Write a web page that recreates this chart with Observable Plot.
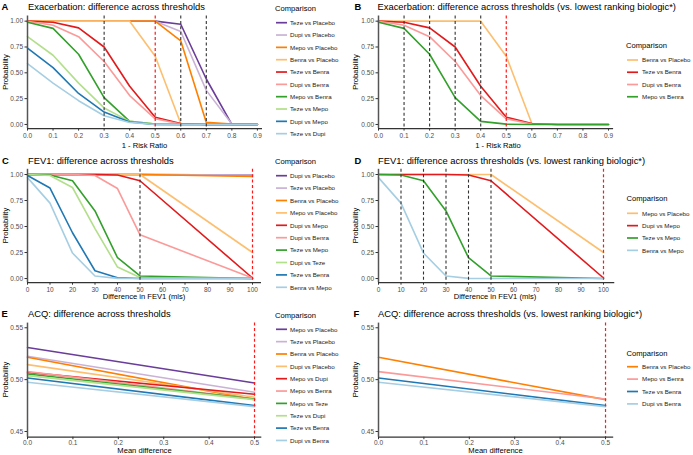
<!DOCTYPE html>
<html><head><meta charset="utf-8">
<script src="https://cdn.jsdelivr.net/npm/d3@7"></script>
<script src="https://cdn.jsdelivr.net/npm/@observablehq/plot@0.6"></script>
<style>
body{margin:0;background:#fff;}
#root{position:relative;width:693px;height:455px;overflow:hidden;background:#fff;font-family:"Liberation Sans",Arial,sans-serif;}
#root svg.plot{position:absolute;}
</style></head><body><div id="root"></div>
<script>
// ---------- DATA ----------
const pairedPalette = ["#6A3D9A","#CAB2D6","#FF7F00","#FDBF6F","#E31A1C","#FB9A99","#33A02C","#B2DF8A","#1F78B4","#A6CEE3"];

// Exacerbation (panels A, B)
const exacThresholds = [0,0.1,0.2,0.3,0.4,0.5,0.6,0.7,0.8,0.9];
const exacComparisons = ["Teze vs Placebo","Dupi vs Placebo","Mepo vs Placebo","Benra vs Placebo","Teze vs Benra","Dupi vs Benra","Mepo vs Benra","Teze vs Mepo","Dupi vs Mepo","Teze vs Dupi"];
const exacProbabilities = [
  [1,1,1,1,1,1,0.97,0.44,0,0],
  [1,1,1,1,1,1,0.90,0.33,0.005,0],
  [1,1,1,1,1,1,0.81,0.02,0.005,0],
  [1,1,1,1,1,0.66,0.01,0,0,0],
  [1,0.99,0.935,0.75,0.37,0.07,0.01,0,0,0],
  [1,0.96,0.85,0.61,0.28,0.055,0.005,0,0,0],
  [0.99,0.93,0.68,0.26,0.03,0.003,0,0,0,0],
  [0.85,0.67,0.40,0.16,0.03,0.003,0,0,0,0],
  [0.74,0.55,0.30,0.12,0.025,0,0,0,0,0],
  [0.59,0.40,0.23,0.085,0.02,0,0,0,0,0]
];
const exacLowestComparisons = ["Benra vs Placebo","Teze vs Benra","Dupi vs Benra","Mepo vs Benra"];
const exacCutoffsA = [0.3,0.6,0.7];
const exacCutoffsB = [0.1,0.2,0.3,0.4];
const exacMcid = [0.5];
const exacTickLabels = ["0.0","0.1","0.2","0.3","0.4","0.5","0.6","0.7","0.8","0.9"];

// FEV1 (panels C, D)
const fevThresholds = [0,10,20,30,40,50,100];
const fevComparisons = ["Dupi vs Placebo","Teze vs Placebo","Benra vs Placebo","Mepo vs Placebo","Dupi vs Mepo","Dupi vs Benra","Teze vs Mepo","Dupi vs Teze","Teze vs Benra","Benra vs Mepo"];
const fevProbabilities = [
  [1,1,1,1,1,1,0.995],
  [1,1,1,1,1,1,0.995],
  [1,1,1,1,1,1,0.982],
  [1,1,1,1,1,1,0.25],
  [1,1,1,1,0.995,0.94,0.005],
  [1,1,1,0.99,0.865,0.42,0.005],
  [1,0.995,0.94,0.65,0.20,0.025,0],
  [1,0.99,0.875,0.48,0.11,0.01,0],
  [0.99,0.87,0.44,0.075,0.008,0,0],
  [0.97,0.725,0.245,0.025,0.002,0,0]
];
const fevLowestComparisons = ["Mepo vs Placebo","Dupi vs Mepo","Teze vs Mepo","Benra vs Mepo"];
const fevCutoffsC = [50];
const fevCutoffsD = [10,20,30,40,50];
const fevMcid = [100];
const fevTickLabels = ["0","10","20","30","40","50","60","70","80","90","100"];

// ACQ (panels E, F)
const acqThresholds = [0,0.5];
const acqComparisons = ["Mepo vs Placebo","Teze vs Placebo","Benra vs Placebo","Dupi vs Placebo","Mepo vs Dupi","Mepo vs Benra","Mepo vs Teze","Teze vs Dupi","Teze vs Benra","Dupi vs Benra"];
const acqProbabilities = [
  [0.531,0.4968],
  [0.5225,0.4878],
  [0.5215,0.4807],
  [0.5145,0.4830],
  [0.5070,0.4859],
  [0.5077,0.4813],
  [0.5055,0.4813],
  [0.5039,0.4807],
  [0.5016,0.4749],
  [0.4974,0.4740]
];
const acqLowestComparisons = ["Benra vs Placebo","Mepo vs Benra","Teze vs Benra","Dupi vs Benra"];
const acqMcid = [0.5];
const acqTickLabels = ["0.0","0.1","0.2","0.3","0.4","0.5"];

const probTicks = [0,0.25,0.5,0.75,1];
const acqProbTicks = [0.45,0.5,0.55];

// ---------- DRAWING ----------
const FONT = '"Liberation Sans",Arial,sans-serif';
const root = document.getElementById("root");

function buildRows(thresholds, names, probs, subset) {
  const rows = [];
  const list = subset || names;
  list.forEach(n => {
    const i = names.indexOf(n);
    thresholds.forEach((t, j) => rows.push({x: t, y: probs[i][j], name: n}));
  });
  return rows;
}

function panel(o) {
  const list = o.subset || o.names;
  const colors = list.map(n => pairedPalette[o.names.indexOf(n)]);
  const rows = buildRows(o.thresholds, o.names, o.probs, o.subset);
  const svg = Plot.plot({
    width: o.width, height: o.height,
    marginLeft: o.mL, marginRight: o.mR, marginTop: o.mT, marginBottom: o.mB,
    style: {fontFamily: FONT, fontSize: "6.5px", background: "transparent", overflow: "visible"},
    x: {domain: o.xDomain, label: null},
    y: {domain: o.yDomain, label: null},
    color: {domain: list, range: colors},
    marks: [
      Plot.line(rows, {x: "x", y: "y", z: "name", stroke: "name", strokeWidth: 1.6}),
      Plot.ruleX(o.black || [], {stroke: "#333", strokeWidth: 1.1, strokeDasharray: "3,2.4"}),
      Plot.ruleX(o.red, {stroke: "#ff1a1a", strokeWidth: 1.2, strokeDasharray: "3,2.4"}),
      Plot.ruleX([o.xDomain[0]], {stroke: "#555", strokeWidth: 1.5}),
      Plot.ruleY([o.yDomain[0]], {stroke: "#333", strokeWidth: 1.2}),
      Plot.axisX({ticks: o.xTicks, tickFormat: (d, i) => o.xLabels[i], tickSize: 2.5, tickPadding: o.tickPadX ?? 2, fill: "#4d4d4d", stroke: "#333", label: null}),
      Plot.axisY({ticks: o.yTicks, tickFormat: d3.format(".2f"), tickSize: 2.5, tickPadding: 2, fill: "#4d4d4d", stroke: "#333", label: null})
    ]
  });
  svg.classList.add("plot");
  svg.style.left = o.left + "px";
  svg.style.top = o.top + "px";
  root.appendChild(svg);
  return {list, colors};
}

const xExac = exacThresholds;
const xFev = fevTickLabels.map(Number);
const xAcq = acqTickLabels.map(Number);

const pA = panel({left:0, top:0, width:268, height:142, mL:27, mR:6, mT:15.5, mB:13.9,
  xDomain:[0,0.92], yDomain:[-0.04,1.05], xTicks:xExac, xLabels:exacTickLabels, yTicks:probTicks,
  thresholds:exacThresholds, names:exacComparisons, probs:exacProbabilities, black:exacCutoffsA, red:exacMcid});
const pB = panel({left:340, top:0, width:280, height:142, mL:38, mR:6.9, mT:15.5, mB:13.9,
  xDomain:[0,0.92], yDomain:[-0.04,1.05], xTicks:xExac, xLabels:exacTickLabels, yTicks:probTicks,
  thresholds:exacThresholds, names:exacComparisons, probs:exacProbabilities, subset:exacLowestComparisons, black:exacCutoffsB, red:exacMcid});
const pC = panel({left:0, top:150, width:268, height:148, mL:27, mR:7, mT:18.8, mB:15.8,
  xDomain:[0,104], yDomain:[-0.04,1.05], xTicks:xFev, xLabels:fevTickLabels, yTicks:probTicks,
  thresholds:fevThresholds, names:fevComparisons, probs:fevProbabilities, black:fevCutoffsC, red:fevMcid});
const pD = panel({left:340, top:150, width:280, height:148, mL:38, mR:5.75, mT:18.8, mB:15.8,
  xDomain:[0,105], yDomain:[-0.04,1.05], xTicks:xFev, xLabels:fevTickLabels, yTicks:probTicks,
  thresholds:fevThresholds, names:fevComparisons, probs:fevProbabilities, subset:fevLowestComparisons, black:fevCutoffsD, red:fevMcid});
const pE = panel({left:0, top:305, width:268, height:150, mL:27, mR:6.7, mT:17.6, mB:18.3, tickPadX:1,
  xDomain:[0,0.516], yDomain:[0.4445,0.5545], xTicks:xAcq, xLabels:acqTickLabels, yTicks:acqProbTicks,
  thresholds:acqThresholds, names:acqComparisons, probs:acqProbabilities, red:acqMcid});
const pF = panel({left:340, top:305, width:280, height:150, mL:38, mR:6.8, mT:17.6, mB:18.3, tickPadX:1,
  xDomain:[0,0.518], yDomain:[0.4445,0.5545], xTicks:xAcq, xLabels:acqTickLabels, yTicks:acqProbTicks,
  thresholds:acqThresholds, names:acqComparisons, probs:acqProbabilities, subset:acqLowestComparisons, red:acqMcid});

// ---------- TEXT OVERLAY (titles, axis titles, legends) ----------
const ov = d3.select(root).append("svg")
  .attr("width", 693).attr("height", 455)
  .style("position", "absolute").style("left", "0px").style("top", "0px")
  .style("font-family", FONT).style("pointer-events", "none");

const titles = [
  {letter:"A", lx:1.5, tx:28, y:10, text:"Exacerbation: difference across thresholds"},
  {letter:"B", lx:354.5, tx:377.5, y:10, text:"Exacerbation: difference across thresholds (vs. lowest ranking biologic*)"},
  {letter:"C", lx:2, tx:28, y:164, text:"FEV1: difference across thresholds"},
  {letter:"D", lx:354.5, tx:378, y:164, text:"FEV1: difference across thresholds (vs. lowest ranking biologic*)"},
  {letter:"E", lx:1.5, tx:28, y:317, text:"ACQ: difference across thresholds"},
  {letter:"F", lx:353.5, tx:378, y:317, text:"ACQ: difference across thresholds (vs. lowest ranking biologic*)"}
];
titles.forEach(t => {
  ov.append("text").attr("x", t.lx).attr("y", t.y).attr("font-size", 9.4).attr("font-weight", "bold").attr("fill", "#000").text(t.letter);
  ov.append("text").attr("x", t.tx).attr("y", t.y).attr("font-size", 9.4).attr("fill", "#000").text(t.text);
});

const xTitles = [
  {x:144.5, y:147.5, text:"1 - Risk Ratio"},
  {x:498, y:147.5, text:"1 - Risk Ratio"},
  {x:144, y:299.3, text:"Difference in FEV1 (mls)"},
  {x:495, y:299.3, text:"Difference in FEV1 (mls)"},
  {x:144.5, y:453.3, text:"Mean difference"},
  {x:495.5, y:453.3, text:"Mean difference"}
];
xTitles.forEach(t => ov.append("text").attr("x", t.x).attr("y", t.y).attr("text-anchor", "middle").attr("font-size", 7.6).attr("fill", "#000").text(t.text));

const yTitles = [
  {x:5, y:72}, {x:355, y:72}, {x:5, y:225.5}, {x:355, y:225.5}, {x:5, y:379.5}, {x:355, y:379.5}
];
yTitles.forEach(t => ov.append("text")
  .attr("transform", `translate(${t.x + 2.6},${t.y}) rotate(-90)`)
  .attr("text-anchor", "middle").attr("font-size", 7.6).attr("fill", "#000").text("Probability"));

function legend(p, titleX, titleY, lineX, textX, y0, step) {
  ov.append("text").attr("x", titleX).attr("y", titleY).attr("font-size", 7.6).attr("fill", "#000").text("Comparison");
  p.list.forEach((n, i) => {
    const y = y0 + i * step;
    ov.append("line").attr("x1", lineX).attr("x2", lineX + 11).attr("y1", y).attr("y2", y)
      .attr("stroke", p.colors[i]).attr("stroke-width", 1.7);
    ov.append("text").attr("x", textX).attr("y", y + 2.2).attr("font-size", 6.2).attr("fill", "#1a1a1a").text(n);
  });
}
legend(pA, 275, 10.5, 276, 290, 22.7, 12.33);
legend(pB, 626, 47.5, 627, 642, 60, 12.25);
legend(pC, 275, 164.2, 276, 290, 175.7, 12.4);
legend(pD, 626.5, 200.8, 627, 642, 213.3, 12.35);
legend(pE, 275, 318.2, 276, 290, 329.3, 12.35);
legend(pF, 626.5, 355.8, 627, 642, 366.7, 12.4);
</script>
</body></html>
